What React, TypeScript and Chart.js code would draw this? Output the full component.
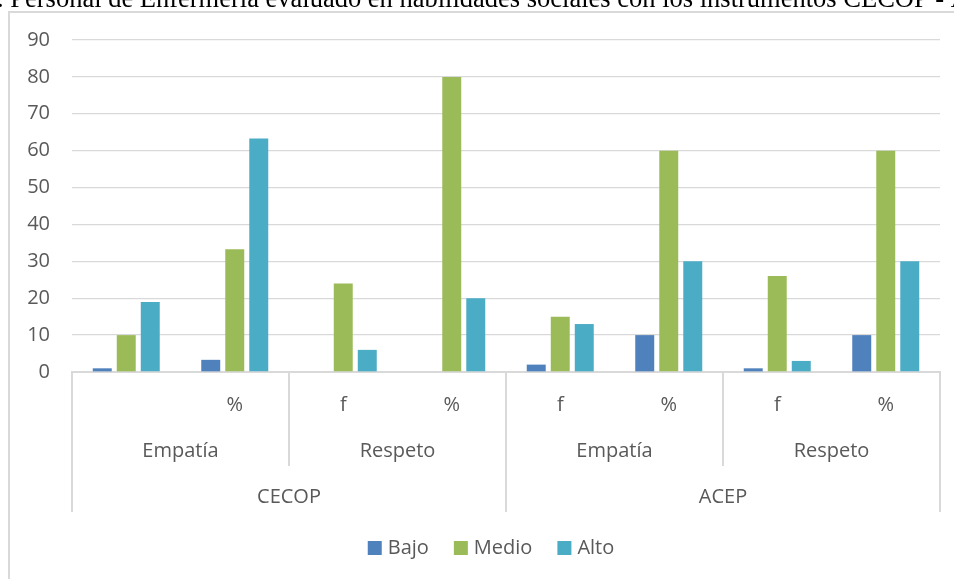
import { useEffect, useRef } from 'react';
import { Chart, registerables } from 'chart.js';

Chart.register(...registerables);

const TITLE = '. Personal de Enfermería evaluado en habilidades sociales con los instrumentos CECOP - ACEP';
const measureLabels = ['', '%', 'f', '%', 'f', '%', 'f', '%'];
const dimensionLabels = ['Empatía', 'Respeto', 'Empatía', 'Respeto'];
const instrumentLabels = ['CECOP', 'ACEP'];
const seriesNames = ['Bajo', 'Medio', 'Alto'];
const bajo = [1, 3.3, 0, 0, 2, 10, 1, 10];
const medio = [10, 33.3, 24, 80, 15, 60, 26, 60];
const alto = [19, 63.3, 6, 20, 13, 30, 3, 30];
const Y_MIN = 0;
const Y_MAX = 90;
const Y_STEP = 10;

const COLORS = ['#4F81BD', '#9BBB59', '#4BACC6'];
const TEXT = '#595959';
const LINE = '#d9d9d9';
const FONT = '"Open Sans", sans-serif';

const decorPlugin = {
  id: 'decor',
  beforeDraw(chart: any) {
    const ctx = chart.ctx;
    ctx.save();
    ctx.fillStyle = '#ffffff';
    ctx.fillRect(0, 0, chart.width, chart.height);
    // chart box border
    ctx.strokeStyle = LINE;
    ctx.lineWidth = 2;
    ctx.strokeRect(9, 12, chart.width + 40, chart.height + 40);
    // title (cut at the top)
    ctx.fillStyle = '#000000';
    ctx.font = '26.5px "Liberation Serif", "Times New Roman", serif';
    ctx.textBaseline = 'alphabetic';
    ctx.textAlign = 'left';
    ctx.fillText(TITLE, -3, 6.5);
    ctx.restore();
  },
  afterDraw(chart: any) {
    const ctx = chart.ctx;
    const x = chart.scales.x;
    const area = chart.chartArea;
    const n = measureLabels.length;
    const w = x.getPixelForValue(1) - x.getPixelForValue(0);
    const edge = (i: number) => x.getPixelForValue(0) - w / 2 + i * w;
    ctx.save();
    ctx.fillStyle = TEXT;
    ctx.font = '20px ' + FONT;
    ctx.textAlign = 'center';
    ctx.textBaseline = 'middle';
    measureLabels.forEach((l, i) => {
      ctx.fillText(l, x.getPixelForValue(i), 405);
    });
    const per2 = n / dimensionLabels.length;
    dimensionLabels.forEach((l, i) => {
      ctx.fillText(l, (edge(i * per2) + edge((i + 1) * per2)) / 2, 451);
    });
    const per3 = n / instrumentLabels.length;
    instrumentLabels.forEach((l, i) => {
      ctx.fillText(l, (edge(i * per3) + edge((i + 1) * per3)) / 2, 497);
    });
    ctx.strokeStyle = LINE;
    ctx.lineWidth = 2;
    for (let i = 0; i <= n; i += per2) {
      const px = Math.round(edge(i));
      const bottom = i % per3 === 0 ? 512 : 466;
      ctx.beginPath();
      ctx.moveTo(px, area.bottom);
      ctx.lineTo(px, bottom);
      ctx.stroke();
    }
    // legend
    const items = chart.data.datasets.map((d: any) => ({ label: d.label, color: d.backgroundColor }));
    const box = 14;
    const gapBox = 6;
    const gapItem = 25;
    const widths = items.map((it: any) => box + gapBox + ctx.measureText(it.label).width);
    const total = widths.reduce((a: number, b: number) => a + b, 0) + gapItem * (items.length - 1);
    let lx = 491 - total / 2;
    const ly = 548;
    ctx.textAlign = 'left';
    items.forEach((it: any, i: number) => {
      ctx.fillStyle = it.color;
      ctx.fillRect(lx, ly - 7, box, box);
      ctx.fillStyle = TEXT;
      ctx.fillText(it.label, lx + box + gapBox, ly);
      lx += widths[i] + gapItem;
    });
    ctx.restore();
  },
};

export default function App() {
  const ref = useRef<HTMLCanvasElement | null>(null);
  useEffect(() => {
    if (!ref.current) return;
    const chart = new Chart(ref.current, {
      type: 'bar',
      data: {
        labels: measureLabels,
        datasets: [bajo, medio, alto].map((d, i) => ({
          label: seriesNames[i],
          data: d,
          backgroundColor: COLORS[i],
          borderWidth: 0,
          categoryPercentage: 0.664,
          barPercentage: 0.79,
        })),
      },
      options: {
        responsive: false,
        animation: false,
        devicePixelRatio: 1,
        layout: { padding: { top: 40, left: 0, right: 14, bottom: 0 } },
        plugins: { legend: { display: false }, tooltip: { enabled: false }, title: { display: false } },
        scales: {
          x: {
            ticks: { display: false },
            grid: { display: false },
            border: { display: true, color: LINE, width: 2 },
            afterFit: (s: any) => {
              s.height = 207;
            },
          },
          y: {
            min: Y_MIN,
            max: Y_MAX,
            ticks: { stepSize: Y_STEP, color: TEXT, font: { family: FONT, size: 20 }, padding: 22 },
            grid: { color: LINE, lineWidth: 1.3, drawTicks: false },
            border: { display: false },
            afterFit: (s: any) => {
              s.width = 72;
            },
          },
        },
      },
      plugins: [decorPlugin],
    });
    return () => chart.destroy();
  }, []);
  return (
    <div style={{ position: 'fixed', left: 0, top: 0, width: 954, height: 579, background: '#fff' }}>
      <canvas ref={ref} width={954} height={579} style={{ display: 'block' }} />
    </div>
  );
}
